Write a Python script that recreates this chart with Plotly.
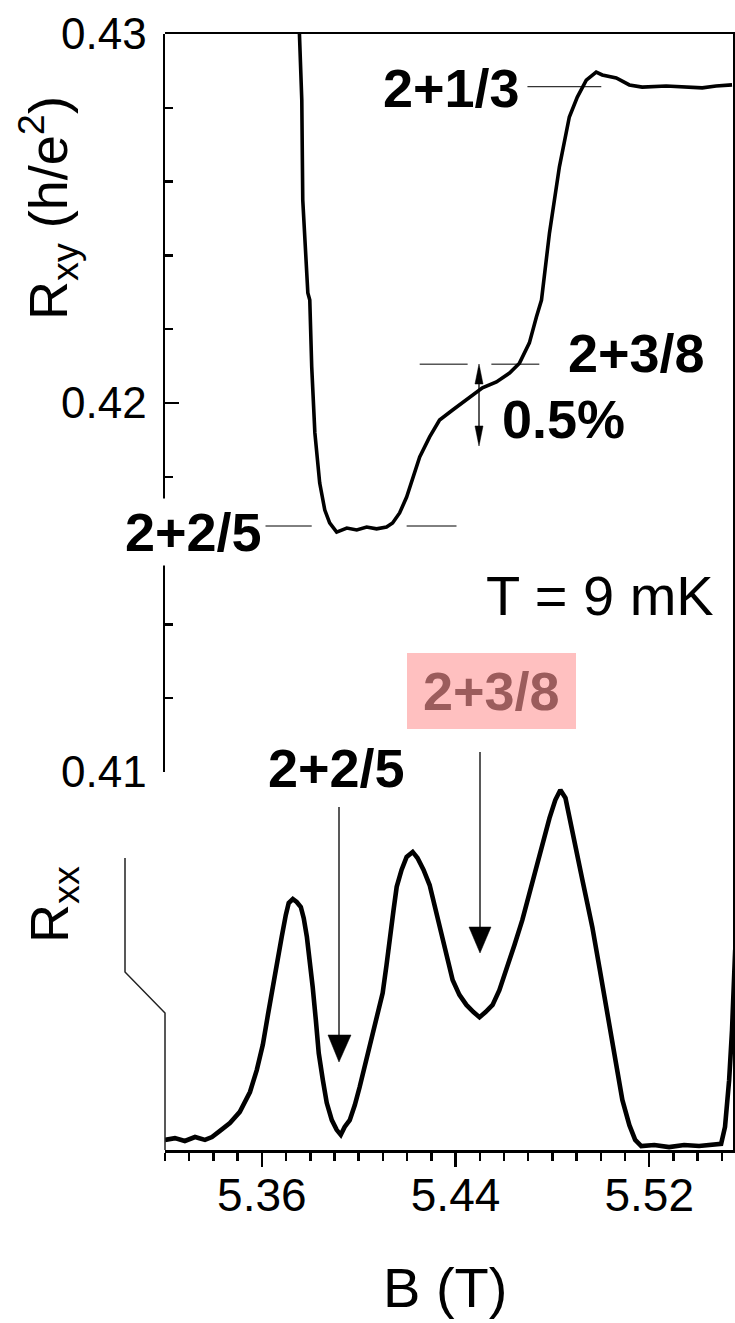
import plotly.graph_objects as go

# ---------------- data ----------------
B_xy = [5.3752, 5.3765, 5.3769, 5.3790, 5.3798, 5.3806, 5.3819, 5.3839, 5.3860, 5.3880,
        5.3909, 5.3951, 5.3992, 5.4033, 5.4074, 5.4115, 5.4140, 5.4169, 5.4198, 5.4223,
        5.4252, 5.4293, 5.4334, 5.4388, 5.4445, 5.4511, 5.4569, 5.4623, 5.4664, 5.4705,
        5.4734, 5.4755, 5.4788, 5.4829, 5.4870, 5.4903, 5.4940, 5.4981, 5.5006, 5.5064,
        5.5118, 5.5171, 5.5270, 5.5336, 5.5419, 5.5476, 5.5542]
R_xy = [0.4306, 0.42821, 0.42550, 0.42298, 0.42279, 0.42098, 0.41919, 0.41783, 0.41710, 0.41675,
        0.41650, 0.41661, 0.41656, 0.41664, 0.41659, 0.41664, 0.41675, 0.41702, 0.41745, 0.41799,
        0.41854, 0.41908, 0.41954, 0.41981, 0.42008, 0.42041, 0.42057, 0.42081, 0.42108, 0.42163,
        0.42233, 0.42279, 0.42461, 0.42640, 0.42775, 0.42829, 0.42875, 0.42897, 0.42889, 0.42881,
        0.42862, 0.42856, 0.42859, 0.42856, 0.42854, 0.42859, 0.42862]

B_xx = [5.3200, 5.3241, 5.3282, 5.3324, 5.3365, 5.3394, 5.3427, 5.3468, 5.3509, 5.3551,
        5.3579, 5.3604, 5.3625, 5.3645, 5.3666, 5.3682, 5.3699, 5.3711, 5.3728, 5.3744,
        5.3761, 5.3773, 5.3786, 5.3798, 5.3810, 5.3823, 5.3835, 5.3852, 5.3868, 5.3889,
        5.3909, 5.3926, 5.3942, 5.3963, 5.3984, 5.4004, 5.4029, 5.4058, 5.4078, 5.4099,
        5.4115, 5.4128, 5.4144, 5.4157, 5.4177, 5.4198, 5.4223, 5.4243, 5.4268, 5.4293,
        5.4313, 5.4334, 5.4363, 5.4388, 5.4416, 5.4445, 5.4474, 5.4499, 5.4524, 5.4553,
        5.4581, 5.4610, 5.4643, 5.4676, 5.4713, 5.4746, 5.4767, 5.4788, 5.4812, 5.4833,
        5.4854, 5.4882, 5.4903, 5.4924, 5.4944, 5.4965, 5.4994, 5.5023, 5.5043, 5.5064,
        5.5089, 5.5118, 5.5142, 5.5167, 5.5221, 5.5282, 5.5344, 5.5406, 5.5468, 5.5497,
        5.5513, 5.5530, 5.5542, 5.5555]
R_xx = [0.028, 0.033, 0.025, 0.036, 0.028, 0.036, 0.053, 0.075, 0.106, 0.161,
        0.222, 0.292, 0.375, 0.458, 0.533, 0.592, 0.653, 0.686, 0.697, 0.689,
        0.675, 0.644, 0.592, 0.533, 0.453, 0.361, 0.269, 0.194, 0.131, 0.083,
        0.056, 0.042, 0.064, 0.083, 0.125, 0.175, 0.244, 0.314, 0.375, 0.436,
        0.514, 0.592, 0.667, 0.731, 0.778, 0.814, 0.828, 0.811, 0.778, 0.736,
        0.681, 0.611, 0.542, 0.472, 0.431, 0.403, 0.383, 0.369, 0.383, 0.403,
        0.444, 0.500, 0.569, 0.639, 0.731, 0.825, 0.875, 0.922, 0.972, 1.000,
        0.978, 0.881, 0.819, 0.750, 0.686, 0.619, 0.508, 0.397, 0.306, 0.222,
        0.139, 0.069, 0.028, 0.011, 0.014, 0.008, 0.014, 0.011, 0.014, 0.017,
        0.064, 0.194, 0.333, 0.556]

x_tickvals = [5.36, 5.44, 5.52]
x_ticktext = ["5.36", "5.44", "5.52"]
y_tickvals = [0.41, 0.42, 0.43]
y_ticktext = ["0.41", "0.42", "0.43"]

# filling factors nu = 2 + p/q  ->  R_xy = 1/nu  (h/e^2)
nu_13 = 2 + 1 / 3
nu_38 = 2 + 3 / 8
nu_25 = 2 + 2 / 5

# ---------------- layout geometry ----------------
W, H = 735, 1323
ML, MR, MT, MB = 165, 2, 34, 173
PW, PH = W - ML - MR, H - MT - MB


def X(px):
    return (px - ML) / PW


def Y(py):
    return (H - MB - py) / PH


FONT = "Arial, Liberation Sans, sans-serif"
INK = "#000000"
THIN = "#222222"

fig = go.Figure()
fig.add_trace(go.Scatter(x=B_xy, y=R_xy, mode="lines", xaxis="x", yaxis="y",
                         line=dict(color=INK, width=3.6), showlegend=False, hoverinfo="skip"))
fig.add_trace(go.Scatter(x=B_xx, y=R_xx, mode="lines", xaxis="x", yaxis="y2",
                         line=dict(color=INK, width=4.6), showlegend=False, hoverinfo="skip"))

shapes = []


def hline(b0, b1, nu):
    shapes.append(dict(type="line", xref="x", yref="y", x0=b0, x1=b1, y0=1 / nu, y1=1 / nu,
                       line=dict(color=INK, width=1)))


hline(5.4697, 5.5002, nu_13)
hline(5.4252, 5.4450, nu_38)
hline(5.4548, 5.4746, nu_38)
hline(5.3612, 5.3806, nu_25)
hline(5.4198, 5.4404, nu_25)


def pline(pts, width=1.5, color=THIN, fill=None):
    path = "M " + " L ".join(f"{X(a):.5f},{Y(b):.5f}" for a, b in pts)
    if fill:
        path += " Z"
    d = dict(type="path", xref="paper", yref="paper", path=path,
             line=dict(color=color, width=width))
    if fill:
        d["fillcolor"] = fill
    shapes.append(d)


# 0.5 % double arrow
pline([(479, 368), (479, 442)], width=1.3, color=INK)
pline([(479, 364), (475, 384), (483, 384)], width=0.5, color=INK, fill=INK)
pline([(479, 446), (475, 426), (483, 426)], width=0.5, color=INK, fill=INK)

# R_xx arrows
pline([(339, 807), (339, 1040)])
pline([(339, 1062), (328, 1035), (351, 1035)], width=0.5, color=INK, fill=INK)
pline([(480, 752), (480, 930)])
pline([(480, 953), (469, 927), (491, 927)], width=0.5, color=INK, fill=INK)

# broken R_xx axis line
pline([(125, 858), (125, 972), (165, 1013), (165, 1150)], width=1.5)

# pink highlight box behind the second 2+3/8 label
shapes.append(dict(type="rect", xref="paper", yref="paper",
                   x0=X(407), x1=X(576), y0=Y(729), y1=Y(653),
                   fillcolor="#ffc0c0", line=dict(width=0)))

annotations = []


def label(text, px, py, size=54, color=INK, **kw):
    annotations.append(dict(text=text, x=X(px), y=Y(py), xref="paper", yref="paper",
                            xanchor="center", yanchor="middle", showarrow=False,
                            font=dict(family=FONT, size=size, color=color), **kw))


label("<b>2+1/3</b>", 451, 88)
label("<b>2+3/8</b>", 636, 353)
label("<b>0.5%</b>", 563, 419)
label("<b>2+2/5</b>", 193, 532, bgcolor="white", borderpad=3)
label("T = 9 mK", 600, 595, size=56)
label("<b>2+3/8</b>", 491, 691, color="#9b5c5c")
label("<b>2+2/5</b>", 336, 768)
label("R<sub>xy</sub> (h/e<sup>2</sup>)", 48, 208, size=54, textangle=-90)
label("R<sub>xx</sub>", 53, 905, size=54, textangle=-90)
label("B (T)", 445, 1288, size=56)

fig.update_layout(
    width=W, height=H,
    margin=dict(l=ML, r=MR, t=MT, b=MB, autoexpand=False),
    paper_bgcolor="white", plot_bgcolor="rgba(0,0,0,0)",
    showlegend=False,
    shapes=shapes, annotations=annotations,
    xaxis=dict(range=[5.32, 5.5546], anchor="y2", showline=True, mirror=True,
               automargin=False,
               linecolor=INK, linewidth=2.5, showgrid=False, zeroline=False,
               tickmode="array", tickvals=x_tickvals, ticktext=x_ticktext,
               ticks="outside", ticklen=14, tickwidth=2.5, tickcolor=INK,
               ticklabelstandoff=-11,
               tickfont=dict(family=FONT, size=46, color=INK),
               minor=dict(tickmode="linear", tick0=5.32, dtick=0.01, ticks="outside",
                          ticklen=8, tickwidth=2.5, tickcolor=INK, showgrid=False)),
    yaxis=dict(domain=[Y(772), 1.0], range=[0.41, 0.43], anchor="x", side="left",
               automargin=False,
               showline=True, linecolor=INK, linewidth=2.5, showgrid=False, zeroline=False,
               tickmode="array", tickvals=y_tickvals, ticktext=y_ticktext,
               ticks="inside", ticklen=14, tickwidth=2.5, tickcolor=INK,
               ticklabelstandoff=7,
               tickfont=dict(family=FONT, size=44, color=INK),
               minor=dict(tickmode="linear", tick0=0.41, dtick=0.002, ticks="inside",
                          ticklen=8, tickwidth=2.5, tickcolor=INK, showgrid=False)),
    yaxis2=dict(domain=[0, 1], range=[0, 3.1], anchor="x", side="right",
                automargin=False,
                showline=True, linecolor=INK, linewidth=2, showgrid=False, zeroline=False,
                showticklabels=False, ticks=""),
)

fig.write_html(
    "out.html",
    config={"displayModeBar": False, "staticPlot": True},
    post_script="document.body.style.margin='0px';document.body.style.padding='0px';"
                "document.documentElement.style.overflow='hidden';",
)
